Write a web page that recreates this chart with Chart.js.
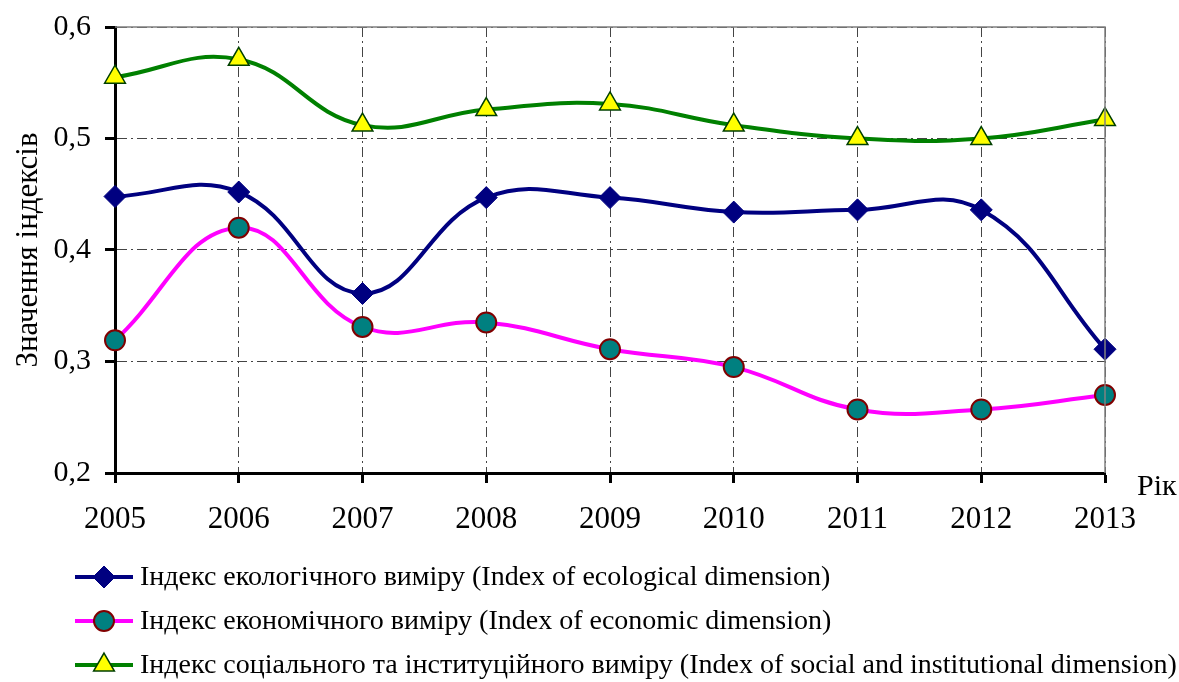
<!DOCTYPE html>
<html>
<head>
<meta charset="utf-8">
<script src="https://cdn.jsdelivr.net/npm/chart.js@4.4.0/dist/chart.umd.min.js"></script>
<style>
  html, body { margin: 0; padding: 0; background: #fff; }
  #wrap { width: 1179px; height: 682px; }
</style>
</head>
<body>
<div id="wrap"><canvas id="chartCanvas" width="1179" height="682"></canvas></div>
<script>
// ---------------- DATA ----------------
const years = ['2005', '2006', '2007', '2008', '2009', '2010', '2011', '2012', '2013'];
const ecological = [0.448, 0.452, 0.361, 0.447, 0.447, 0.434, 0.436, 0.436, 0.311];
const economic = [0.319, 0.420, 0.331, 0.335, 0.311, 0.295, 0.257, 0.257, 0.270];
const social = [0.555, 0.571, 0.512, 0.526, 0.531, 0.512, 0.500, 0.500, 0.517];
const yTicks = [0.2, 0.3, 0.4, 0.5, 0.6];

const labelEco = 'Індекс екологічного виміру (Index of ecological dimension)';
const labelEcon = 'Індекс економічного виміру (Index of economic dimension)';
const labelSoc = 'Індекс соціального та інституційного виміру (Index of social and institutional dimension)';

const serif = '"Liberation Serif", "Times New Roman", serif';

// -------- frame, axis word and legend ----------
const extrasPlugin = {
  id: 'extras',
  afterDraw(chart) {
    const ctx = chart.ctx;
    const a = chart.chartArea;
    ctx.save();
    // gray top and right border
    ctx.strokeStyle = '#808080';
    ctx.lineWidth = 1.5;
    ctx.setLineDash([]);
    ctx.beginPath();
    ctx.moveTo(a.left, a.top);
    ctx.lineTo(a.right, a.top);
    ctx.lineTo(a.right, a.bottom);
    ctx.stroke();

    // "Рік" label
    ctx.fillStyle = '#000';
    ctx.font = '30px ' + serif;
    ctx.textBaseline = 'middle';
    ctx.textAlign = 'left';
    ctx.fillText('Рік', a.right + 32, a.bottom + 14);

    // legend, one row per series
    const rowY = [577, 621, 665];
    chart.data.datasets.forEach((ds, i) => {
      const y = rowY[i];
      ctx.strokeStyle = ds.borderColor;
      ctx.lineWidth = 4;
      ctx.beginPath();
      ctx.moveTo(75, y);
      ctx.lineTo(133, y);
      ctx.stroke();
      ctx.fillStyle = ds.pointBackgroundColor;
      ctx.strokeStyle = ds.pointBorderColor;
      ctx.lineWidth = ds.pointBorderWidth;
      Chart.helpers.drawPoint(ctx, {
        pointStyle: ds.pointStyle,
        radius: ds.pointRadius,
        borderWidth: ds.pointBorderWidth,
        rotation: 0
      }, 104, y);
      ctx.fillStyle = '#000';
      ctx.font = '28px ' + serif;
      ctx.textAlign = 'left';
      ctx.textBaseline = 'middle';
      ctx.fillText(ds.label, 140, y + 1);
    });
    ctx.restore();
  }
};

const chart = new Chart(document.getElementById('chartCanvas'), {
  type: 'line',
  data: {
    labels: years,
    datasets: [{
      label: labelEco,
      data: ecological,
      borderColor: '#000080',
      borderWidth: 4,
      pointStyle: 'rectRot',
      pointRadius: 11,
      pointBackgroundColor: '#000080',
      pointBorderColor: '#000080',
      pointBorderWidth: 1,
      tension: 0.42
    }, {
      label: labelEcon,
      data: economic,
      borderColor: '#FF00FF',
      borderWidth: 4,
      pointStyle: 'circle',
      pointRadius: 10,
      pointBackgroundColor: '#008080',
      pointBorderColor: '#800000',
      pointBorderWidth: 2,
      tension: 0.42
    }, {
      label: labelSoc,
      data: social,
      borderColor: '#008000',
      borderWidth: 4,
      pointStyle: 'triangle',
      pointRadius: 12,
      pointBackgroundColor: '#FFFF00',
      pointBorderColor: '#004000',
      pointBorderWidth: 1.5,
      tension: 0.42
    }]
  },
  options: {
    responsive: false,
    animation: false,
    layout: { padding: { left: 0, right: 74, top: 27, bottom: 149 } },
    plugins: {
      legend: { display: false },
      tooltip: { enabled: false }
    },
    scales: {
      x: {
        offset: false,
        afterFit(scale) {
          scale.height = 60;
          scale.paddingLeft = 0;
          scale.paddingRight = 0;
        },
        grid: {
          color: '#444',
          lineWidth: 1,
          drawTicks: true,
          tickLength: 10,
          tickColor: '#000',
          tickWidth: 3
        },
        border: { color: '#000', width: 3, dash: [10, 4, 2, 4] },
        ticks: {
          color: '#000',
          padding: 18,
          maxRotation: 0,
          font: { family: serif, size: 31 }
        }
      },
      y: {
        min: 0.2,
        max: 0.6,
        afterFit(scale) {
          scale.width = 115;
          scale.paddingTop = 0;
          scale.paddingBottom = 0;
        },
        afterBuildTicks(scale) { scale.ticks = yTicks.map(v => ({ value: v })); },
        grid: {
          color: '#444',
          lineWidth: 1,
          tickLength: 10,
          tickColor: '#000',
          tickWidth: 3
        },
        border: { color: '#000', width: 3, dash: [10, 4, 2, 4] },
        ticks: {
          color: '#000',
          padding: 14,
          font: { family: serif, size: 30 },
          callback: v => v.toFixed(1).replace('.', ',')
        },
        title: {
          display: true,
          text: 'Значення індексів',
          color: '#000',
          padding: { top: 10, bottom: 0 },
          font: { family: serif, size: 31 }
        }
      }
    }
  },
  plugins: [extrasPlugin]
});
</script>
</body>
</html>
